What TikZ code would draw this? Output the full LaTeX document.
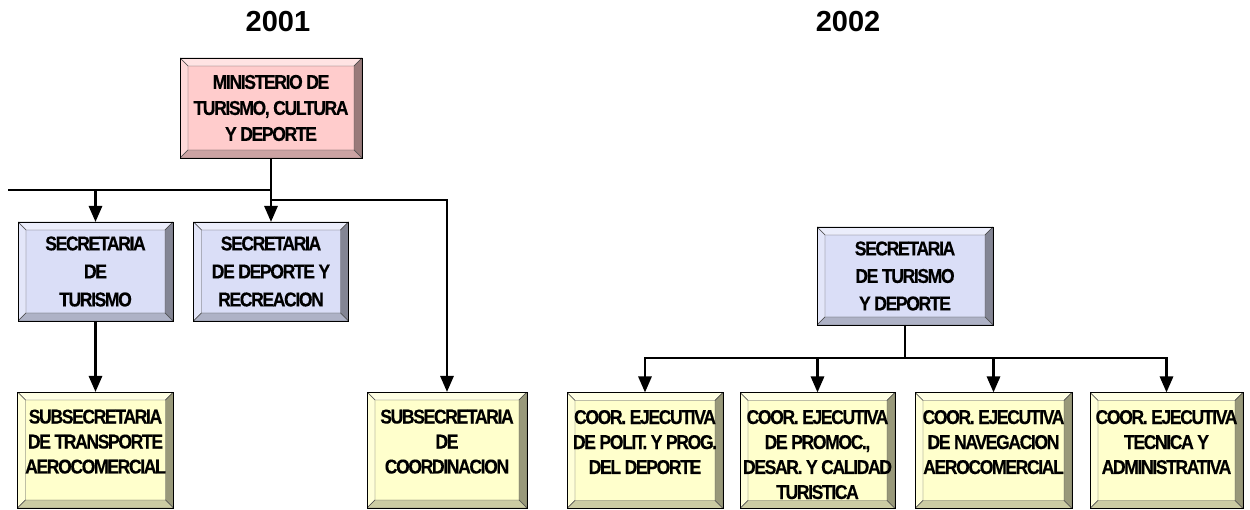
\documentclass[tikz,border=0pt]{standalone}
\usepackage{fontspec}
\setmainfont{Liberation Sans}
\newfontfamily\boxfont{Liberation Sans}[FakeStretch=0.88, LetterSpace=-7, FakeBold=0.3]
\usetikzlibrary{calc,arrows.meta}
\definecolor{pinkface}{RGB}{255,204,204}
\definecolor{blueface}{RGB}{218,222,247}
\definecolor{yellface}{RGB}{255,255,204}
\newcommand\toptxt[1]{\parbox[c][116pt][t]{150pt}{\centering\vspace*{14pt}\begin{tabular}{@{}c@{}}#1\end{tabular}}}
\tikzset{
  bevel/.style={draw=black, line width=0.8pt, fill=#1, inner sep=0pt, outer sep=0pt, align=center,
    font=\boxfont\bfseries\fontsize{20}{26}\selectfont,
    path picture={
      \path (path picture bounding box.north west) coordinate (@nw)
            (path picture bounding box.south east) coordinate (@se);
      \filldraw[fill=#1!55!white, draw=black!70, line width=0.4pt]
        (@nw) -- (@nw -| @se) -- ++(-8pt,-8pt) -- ($(@nw)+(8pt,-8pt)$) -- cycle;
      \filldraw[fill=#1!75!white, draw=black!70, line width=0.4pt]
        (@nw) -- ($(@nw)+(8pt,-8pt)$) -- ($(@nw |- @se)+(8pt,8pt)$) -- (@nw |- @se) -- cycle;
      \filldraw[fill=#1!60!black, draw=black!70, line width=0.4pt]
        (@nw -| @se) -- (@se) -- ++(-8pt,8pt) -- ($(@nw -| @se)+(-8pt,-8pt)$) -- cycle;
      \filldraw[fill=#1!80!black, draw=black!70, line width=0.4pt]
        (@nw |- @se) -- (@se) -- ++(-8pt,8pt) -- ($(@nw |- @se)+(8pt,8pt)$) -- cycle;
    }},
  secbox/.style={minimum width=155pt, minimum height=99pt, font=\boxfont\bfseries\fontsize{20}{28}\selectfont},
  subbox/.style={minimum width=156pt, minimum height=116pt, font=\boxfont\bfseries\fontsize{20}{25}\selectfont},
  conn/.style={line width=2.8pt},
  arr/.style={conn, -{Triangle[width=13pt,length=16pt]}},
  title/.style={font=\bfseries\fontsize{29}{30}\selectfont, inner sep=0pt}
}
\begin{document}
\begin{tikzpicture}[x=1pt,y=-1pt]
\useasboundingbox (0,0) rectangle (1250,510);
% titles
\node[title] (t1) at (278,22) {2001};
\node[title] (t2) at (848,22) {2002};
% 2001
\node[bevel=pinkface, minimum width=182pt, minimum height=100pt] (min) at (271,108) {MINISTERIO DE\\TURISMO, CULTURA\\Y DEPORTE};
\node[bevel=blueface, secbox] (tur) at (95.5,271.5) {SECRETARIA\\DE\\TURISMO};
\node[bevel=blueface, secbox] (dep) at (271,271.5) {SECRETARIA\\DE DEPORTE Y\\RECREACION};
\node[bevel=yellface, subbox] (trans) at (95.5,450) {\toptxt{SUBSECRETARIA\\DE TRANSPORTE\\AEROCOMERCIAL}};
\node[bevel=yellface, subbox, minimum width=160pt] (coord) at (447,450) {\toptxt{SUBSECRETARIA\\DE\\COORDINACION}};
\coordinate (leftend) at (8,190);
\coordinate (j2) at (271,200);
\draw[conn] (leftend) -- (leftend -| min.south);
\draw[arr] (min.south) -- (dep.north);
\draw[arr] (leftend -| tur.north) -- (tur.north);
\draw[arr] (tur.south) -- (trans.north);
\draw[arr] (j2) -| (coord.north);
% 2002
\node[bevel=blueface, minimum width=176pt, minimum height=98pt, font=\boxfont\bfseries\fontsize{20}{27.5}\selectfont] (sec) at (905,276) {SECRETARIA\\DE TURISMO\\Y DEPORTE};
\node[bevel=yellface, subbox] (c1) at (645,450.5) {\toptxt{COOR. EJECUTIVA\\DE POLIT. Y PROG.\\DEL DEPORTE}};
\node[bevel=yellface, subbox, minimum width=155pt] (c2) at (817.5,450.5) {\toptxt{COOR. EJECUTIVA\\DE PROMOC.,\\DESAR. Y CALIDAD\\TURISTICA}};
\node[bevel=yellface, subbox, minimum width=157pt] (c3) at (993.5,450.5) {\toptxt{COOR. EJECUTIVA\\DE NAVEGACION\\AEROCOMERCIAL}};
\node[bevel=yellface, subbox, minimum width=153pt] (c4) at (1166.5,450.5) {\toptxt{COOR. EJECUTIVA\\TECNICA Y\\ADMINISTRATIVA}};
\coordinate (k) at (905,358);
\draw[conn] (sec.south) -- (k);
\draw[conn, line cap=rect] (k -| c1.north) -- (k -| c4.north);
\foreach \c in {c1,c2,c3,c4}{
  \draw[arr] (k -| \c.north) -- (\c.north);
}
\end{tikzpicture}
\end{document}
